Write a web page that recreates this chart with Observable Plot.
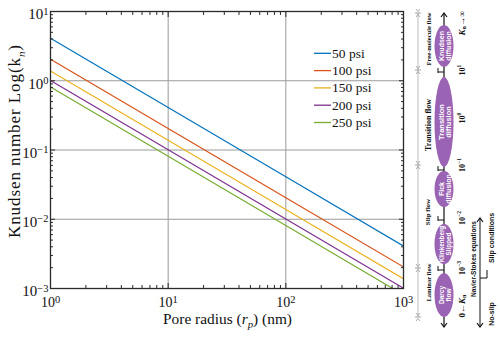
<!DOCTYPE html>
<html>
<head>
<meta charset="utf-8">
<script src="https://cdn.jsdelivr.net/npm/d3@7"></script>
<script src="https://cdn.jsdelivr.net/npm/@observablehq/plot@0.6"></script>
<style>
  html, body { margin: 0; padding: 0; background: #fff; }
  #chart { width: 500px; height: 339px; }
  #chart svg text { font-family: 'Liberation Serif', 'Times New Roman', serif; }
  #chart svg text.sans { font-family: 'Liberation Sans', 'Arial', sans-serif; }
</style>
</head>
<body>
<div id="chart"></div>
<script>
// ---- data ----
const seriesNames = ["50 psi", "100 psi", "150 psi", "200 psi", "250 psi"];
const seriesColors = ["#0072BD", "#D95319", "#EDB120", "#7E2F8E", "#77AC30"];
const poreRadius = [1, 10, 100, 1000];
const kn50 = [4.1, 0.41, 0.041, 0.0041];
const kn100 = [2.05, 0.205, 0.0205, 0.00205];
const kn150 = [1.38, 0.138, 0.0138, 0.00138];
const kn200 = [1.01, 0.101, 0.0101, 0.00101];
const kn250 = [0.81, 0.081, 0.0081, 0.00081];
const xTicks = [1, 10, 100, 1000];
const yTicks = [0.001, 0.01, 0.1, 1, 10];

const allSeries = [kn50, kn100, kn150, kn200, kn250];
const rows = [];
allSeries.forEach((vals, s) => vals.forEach((v, i) => rows.push({series: seriesNames[s], r: poreRadius[i], kn: v})));

function minorOf(majors) {
  const out = [];
  for (let i = 0; i < majors.length - 1; i++) for (let k = 2; k <= 9; k++) out.push(majors[i] * k);
  return out;
}
const xMinor = minorOf(xTicks), yMinor = minorOf(yTicks);
const expFmt = d => String(Math.round(Math.log10(d)));
const font = "'Liberation Serif', 'Times New Roman', serif";
const axisCol = "#2a2a2a";

const plot = Plot.plot({
  width: 500, height: 339,
  marginLeft: 50, marginRight: 97, marginTop: 11, marginBottom: 51,
  style: {fontFamily: font, fontSize: "14px", background: "#fff", color: "#111"},
  x: {type: "log", domain: [1, 1000], label: null},
  y: {type: "log", domain: [0.001, 10], label: null},
  color: {domain: seriesNames, range: seriesColors},
  marks: [
    Plot.gridX(xTicks, {stroke: "#9a9a9a", strokeOpacity: 1, strokeWidth: 1}),
    Plot.gridY(yTicks, {stroke: "#9a9a9a", strokeOpacity: 1, strokeWidth: 1}),
    Plot.line(rows, {x: "r", y: "kn", z: "series", stroke: "series", strokeWidth: 1.2, clip: true}),
    Plot.axisX(xTicks, {anchor: "bottom", tickSize: 0, tickPadding: 9, tickFormat: expFmt, label: null, fontSize: 14}),
    Plot.axisY(yTicks, {anchor: "left", tickSize: 0, tickPadding: 2, dy: 3, tickFormat: expFmt, label: null, fontSize: 15}),
    Plot.axisX(xTicks, {anchor: "bottom", tickSize: -5, tickFormat: () => "", label: null, stroke: axisCol}),
    Plot.axisX(xTicks, {anchor: "top", tickSize: -5, tickFormat: () => "", label: null, stroke: axisCol}),
    Plot.axisY(yTicks, {anchor: "left", tickSize: -5, tickFormat: () => "", label: null, stroke: axisCol}),
    Plot.axisY(yTicks, {anchor: "right", tickSize: -5, tickFormat: () => "", label: null, stroke: axisCol}),
    Plot.axisX(xMinor, {anchor: "bottom", tickSize: -3, tickFormat: () => "", label: null, stroke: axisCol}),
    Plot.axisX(xMinor, {anchor: "top", tickSize: -3, tickFormat: () => "", label: null, stroke: axisCol}),
    Plot.axisY(yMinor, {anchor: "left", tickSize: -3, tickFormat: () => "", label: null, stroke: axisCol}),
    Plot.axisY(yMinor, {anchor: "right", tickSize: -3, tickFormat: () => "", label: null, stroke: axisCol}),
    Plot.frame({stroke: axisCol, strokeWidth: 1.3})
  ]
});
document.getElementById("chart").appendChild(plot);

const svg = d3.select(plot);
// superscript tick labels
svg.selectAll('g[aria-label="x-axis tick label"] text, g[aria-label="y-axis tick label"] text').each(function () {
  const t = d3.select(this);
  const e = t.text();
  if (e === "") return;
  t.text(null);
  t.append("tspan").text("10");
  t.append("tspan").attr("dy", "-0.45em").attr("font-size", "10.5px").text(e.replace("-", "\u2212"));
});

// axis titles
const xl = svg.append("text").attr("x", 227.5).attr("y", 324).attr("text-anchor", "middle")
  .attr("font-size", 15).attr("fill", "#111")
  .attr("textLength", 129).attr("lengthAdjust", "spacingAndGlyphs");
xl.append("tspan").text("Pore radius (");
xl.append("tspan").attr("font-style", "italic").text("r");
xl.append("tspan").attr("font-style", "italic").attr("font-size", 10.5).attr("dy", 4).text("p");
xl.append("tspan").attr("dy", -4).text(") (nm)");

const yl = svg.append("text").attr("transform", "translate(20,141.5) rotate(-90)").attr("text-anchor", "middle")
  .attr("font-size", 17).attr("fill", "#111")
  .attr("textLength", 193).attr("lengthAdjust", "spacing");
yl.append("tspan").text("Knudsen number Log(");
yl.append("tspan").text("k");
yl.append("tspan").attr("font-style", "italic").attr("font-size", 11).attr("dy", 5).text("n");
yl.append("tspan").attr("dy", -5).text(")");

// legend
const lg = svg.append("g");
seriesNames.forEach((name, i) => {
  const y = 53.3 + i * 17.3;
  lg.append("line").attr("x1", 314).attr("x2", 331).attr("y1", y).attr("y2", y)
    .attr("stroke", seriesColors[i]).attr("stroke-width", 1.3);
  lg.append("text").attr("x", 332).attr("y", y + 4.5).attr("text-anchor", "start")
    .attr("font-size", 13.5).attr("fill", "#111").text(name);
});

// ---- right side flow-regime diagram ----
const dg = svg.append("g");
const purple = "#9b63b3";
function vtext(x, y, opts = {}) {
  const t = dg.append("text").attr("transform", `translate(${x},${y}) rotate(-90)`)
    .attr("text-anchor", "middle").attr("dominant-baseline", "central")
    .attr("font-weight", "bold")
    .attr("font-size", opts.size || 8).attr("fill", opts.fill || "#111");
  if (opts.sans) t.attr("class", "sans");
  return t;
}
function arrowHead(x, y, dir) { // dir: -1 up, +1 down
  dg.append("path").attr("d", `M${x - 3},${y - dir * 4} L${x},${y} L${x + 3},${y - dir * 4}`)
    .attr("fill", "none").attr("stroke", "#111").attr("stroke-width", 1.2);
}
// dimension line
dg.append("line").attr("x1", 418).attr("x2", 418).attr("y1", 13).attr("y2", 317).attr("stroke", "#aaa").attr("stroke-width", 0.8);
[13, 70, 165, 268, 317].forEach(y => {
  dg.append("line").attr("x1", 415).attr("x2", 421).attr("y1", y).attr("y2", y).attr("stroke", "#888").attr("stroke-width", 0.8);
  dg.append("path").attr("d", `M416,${y - 4} L418,${y - 1.5} L420,${y - 4} M416,${y + 4} L418,${y + 1.5} L420,${y + 4}`)
    .attr("fill", "none").attr("stroke", "#888").attr("stroke-width", 0.7);
});
vtext(428, 39, {size: 6.5}).text("Free-molecule flow");
vtext(428, 125, {size: 8}).text("Transition flow");
vtext(428, 212, {size: 7}).text("Slip flow");
vtext(428, 282.5, {size: 6.5}).text("Laminar flow");

// spine
dg.append("line").attr("x1", 444).attr("x2", 444).attr("y1", 13).attr("y2", 327).attr("stroke", "#111").attr("stroke-width", 1.2);
arrowHead(444, 13, -1); arrowHead(444, 327, 1);
[72, 170, 220, 270].forEach(y => {
  dg.append("line").attr("x1", 438).attr("x2", 444).attr("y1", y).attr("y2", y).attr("stroke", "#111").attr("stroke-width", 1);
  dg.append("line").attr("x1", 438).attr("x2", 438).attr("y1", y - 4).attr("y2", y + 1).attr("stroke", "#111").attr("stroke-width", 1);
});
const ells = [
  {cy: 46, ry: 21, l1: "Knudsen", l2: "diffusion", size: 7},
  {cy: 122, ry: 45, l1: "Transition", l2: "diffusion", size: 7.5},
  {cy: 189, ry: 18, l1: "Fick", l2: "diffusion", size: 7},
  {cy: 244, ry: 20, l1: "Klinkenberg", l2: "Slipped", size: 6.3},
  {cy: 295, ry: 22, l1: "Darcy", l2: "flow", size: 6.5}
];
ells.forEach(e => {
  dg.append("ellipse").attr("cx", 444).attr("cy", e.cy).attr("rx", 9.5).attr("ry", e.ry).attr("fill", purple);
  vtext(441, e.cy, {sans: true, size: e.size, fill: "#fff"}).text(e.l1);
  vtext(448, e.cy, {sans: true, size: e.size, fill: "#fff"}).text(e.l2);
});
// Kn labels
function knLabel(y, exp) {
  const t = vtext(462, y);
  t.append("tspan").text("10");
  t.append("tspan").attr("font-size", 5.5).attr("dy", -3).text(exp);
}
knLabel(70, "1"); knLabel(118, "0"); knLabel(165, "\u22121"); knLabel(218, "\u22122"); knLabel(268, "\u22123");
{
  const t = vtext(462, 23, {size: 9});
  t.append("tspan").attr("font-style", "italic").text("K");
  t.append("tspan").attr("font-size", 6).attr("dy", 2).text("n");
  t.append("tspan").attr("dy", -2).text("\u2192\u221E");
}
{
  const t = vtext(462, 306, {size: 9});
  t.append("tspan").text("0\u2190");
  t.append("tspan").attr("font-style", "italic").text("K");
  t.append("tspan").attr("font-size", 6).attr("dy", 2).text("n");
}
vtext(473, 259, {sans: true, size: 6.5}).text("Navier-Stokes equations");
// bracket
dg.append("line").attr("x1", 480).attr("x2", 480).attr("y1", 218).attr("y2", 327).attr("stroke", "#111").attr("stroke-width", 1);
arrowHead(480, 218, -1); arrowHead(480, 327, 1);
dg.append("path").attr("d", "M480,278 L487,278 L487,270").attr("fill", "none").attr("stroke", "#111").attr("stroke-width", 1);
vtext(491, 238, {sans: true, size: 7}).text("Slip conditions");
vtext(491, 314, {sans: true, size: 7}).text("No-slip");
</script>
</body>
</html>
